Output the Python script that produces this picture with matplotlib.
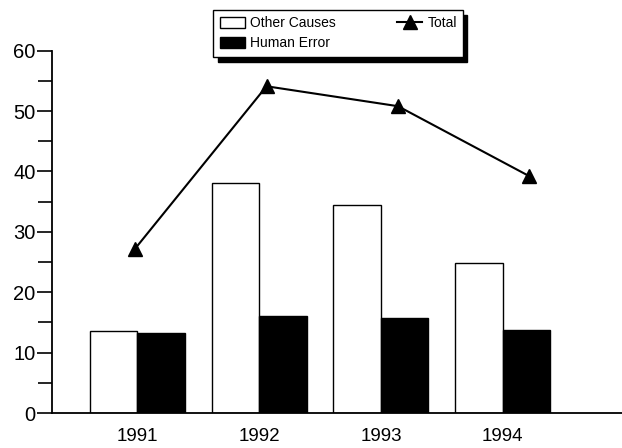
import numpy as np
import matplotlib.pyplot as plt

years = ['1991', '1992', '1993', '1994']
other_causes = [13.6, 38.1, 34.5, 24.9]
human_error = [13.3, 16.1, 15.8, 13.7]
total = [27.2, 54.1, 50.8, 39.2]

plt.rcParams['font.family'] = ['Liberation Sans', 'DejaVu Sans']

fig = plt.figure(figsize=(6.22, 4.48), dpi=100)
ax = fig.add_axes([0.084, 0.078, 0.916, 0.809])

x = np.arange(len(years))
w = 0.39
b1 = ax.bar(x - w / 2, other_causes, w, color='white', edgecolor='black', linewidth=1, label='Other Causes')
b2 = ax.bar(x + w / 2, human_error, w, color='black', edgecolor='black', linewidth=1, label='Human Error')

ax.set_xlim(-0.70, 3.98)
ax.set_ylim(0, 60)

# the line in the original drifts right of the groups, so it sits on its own x scale
ax2 = ax.twiny()
lo, hi = ax.get_xlim()
ax2.set_xlim((lo + 0.02) / 1.08, (hi + 0.02) / 1.08)
ln, = ax2.plot(x, total, color='black', linewidth=1.5, marker='^', markersize=10, label='Total')
ax2.axis('off')

ax.set_xticks(x)
ax.set_xticklabels(years, fontsize=13.5)
ax.tick_params(axis='x', length=0, pad=11)
ax.set_yticks(range(0, 61, 10))
ax.set_yticks(range(5, 60, 10), minor=True)
ax.tick_params(axis='y', which='major', length=11, width=1.2, labelsize=14.5, pad=1)
ax.tick_params(axis='y', which='minor', length=10, width=1.2)
for s in ['top', 'right']:
    ax.spines[s].set_visible(False)
ax.spines['left'].set_linewidth(1.3)
ax.spines['bottom'].set_linewidth(1.3)

leg = fig.legend([b1, b2, ln], ['Other Causes', 'Human Error', 'Total'], ncol=2,
                 loc='upper left', bbox_to_anchor=(0.343, 0.978), borderaxespad=0,
                 fontsize=10, frameon=True, fancybox=False, edgecolor='black',
                 shadow={'color': 'black', 'alpha': 1, 'ox': 3, 'oy': -4},
                 borderpad=0.45, handlelength=1.8, handleheight=0.9, handletextpad=0.4,
                 columnspacing=4.4, labelspacing=0.45)
leg.get_frame().set_linewidth(1)

fig.savefig('out.png', dpi=100)
